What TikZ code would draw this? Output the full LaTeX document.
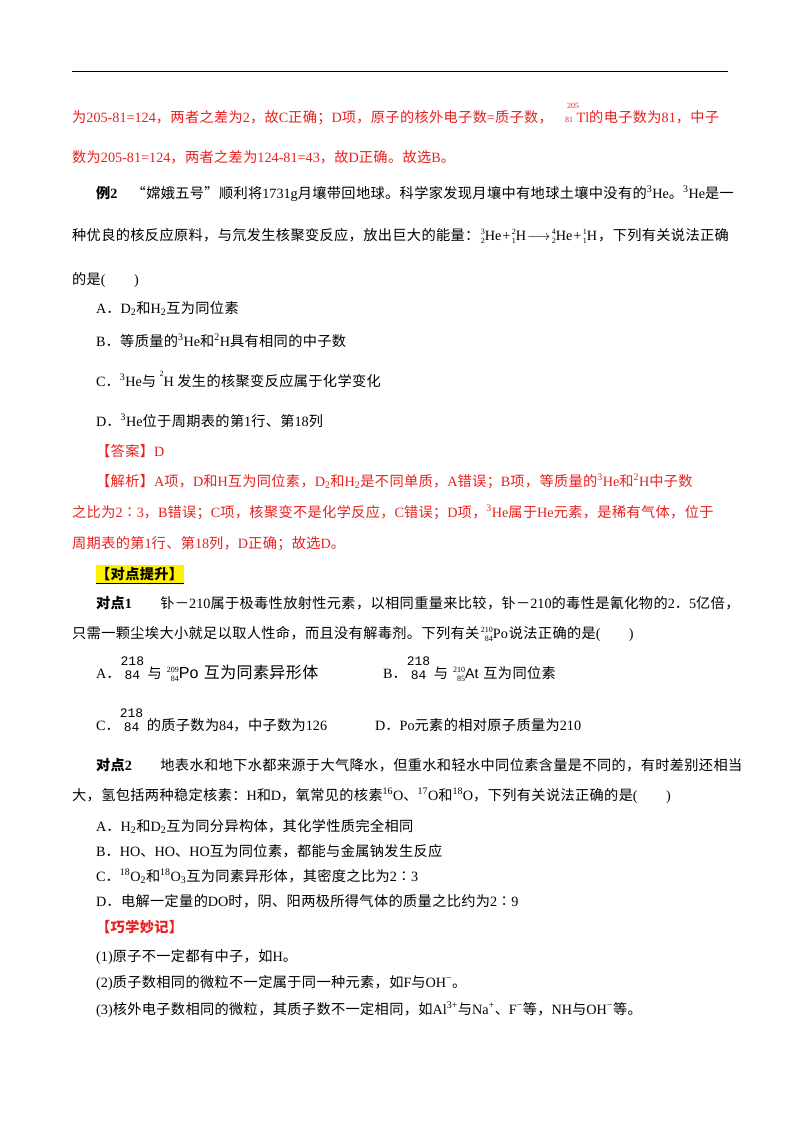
\documentclass[tikz,border=0pt]{standalone}
\usepackage{fontspec}
\setmainfont{Liberation Serif}
\setsansfont{Liberation Sans}
\setmonofont{Liberation Mono}
\newfontfamily\cjk[LetterSpace=2.5]{Noto Sans CJK SC}
\XeTeXinterchartokenstate=1
\newXeTeXintercharclass\CJKc
\count255="4E00 \loop \XeTeXcharclass\count255=\CJKc \ifnum\count255<"9FFF \advance\count255 1 \repeat
\count255="3000 \loop \XeTeXcharclass\count255=\CJKc \ifnum\count255<"303F \advance\count255 1 \repeat
\count255="FF00 \loop \XeTeXcharclass\count255=\CJKc \ifnum\count255<"FFEF \advance\count255 1 \repeat
\XeTeXcharclass"201C=\CJKc \XeTeXcharclass"201D=\CJKc \XeTeXcharclass"2236=\CJKc
\XeTeXinterchartoks 0 \CJKc = {\begingroup\cjk}
\XeTeXinterchartoks 4095 \CJKc = {\begingroup\cjk}
\XeTeXinterchartoks \CJKc 0 = {\endgroup}
\XeTeXinterchartoks \CJKc 4095 = {\endgroup}
\definecolor{ansred}{HTML}{E8201E}
\newcommand\nuc[3]{\kern1.5pt\raisebox{-3pt}{\fontsize{8}{9}\selectfont\begin{tabular}[b]{@{}r@{}}#1\\#2\end{tabular}}#3\kern1pt}
\newcommand\Sp[1]{\textsuperscript{#1}}
\newcommand\Sb[1]{\textsubscript{#1}}
\newcommand\stk{\raisebox{-1pt}{\ttfamily\fontsize{13}{13}\selectfont\begin{tabular}[b]{@{}c@{}}218\\[1pt]84\end{tabular}}}
\begin{document}
\begin{tikzpicture}[x=1pt,y=-1pt,
  txt/.style={anchor=base west,inner sep=0pt,font=\fontsize{14.2}{16}\selectfont},
  red/.style={txt,text=ansred}]
\useasboundingbox (0,0) rectangle (800,1132);
\draw[line width=1pt] (72,72) coordinate (r1) -- (728,72) coordinate (r2);
\node[red] (l1) at (72,122) {为205-81=124，两者之差为2，故C正确；D项，原子的核外电子数=质子数，\quad\raisebox{14pt}{\fontsize{8}{8}\selectfont 205}\kern-14pt\fontsize{8}{8}\selectfont 81\fontsize{14.2}{16}\selectfont\ Tl的电子数为81，中子};
\node[red] (l2) at (72,162) {数为205-81=124，两者之差为124-81=43，故D正确。故选B。};
\node[txt] (l3) at (96,198) {\textbf{例2}\quad “嫦娥五号”顺利将1731g月壤带回地球。科学家发现月壤中有地球土壤中没有的\Sp{3}He。\Sp{3}He是一};
\node[txt] (l4) at (72,240) {种优良的核反应原料，与氘发生核聚变反应，放出巨大的能量：\nuc{3}{2}{He}+\nuc{2}{1}{H}$\longrightarrow$\nuc{4}{2}{He}+\nuc{1}{1}{H}，下列有关说法正确};
\node[txt] (l5) at (72,284) {的是(\qquad)};
\node[txt] (l6) at (96,313) {A．D\Sb{2}和H\Sb{2}互为同位素};
\node[txt] (l7) at (96,346) {B．等质量的\Sp{3}He和\Sp{2}H具有相同的中子数};
\node[txt] (l8) at (96,386) {C．\Sp{3}He与\ \raisebox{10pt}{\fontsize{8}{8}\selectfont 2}H\ 发生的核聚变反应属于化学变化};
\node[txt] (l9) at (96,426) {D．\Sp{3}He位于周期表的第1行、第18列};
\node[red] (l10) at (96,456) {【答案】D};
\node[red] (l11) at (96,486) {【解析】A项，D和H互为同位素，D\Sb{2}和H\Sb{2}是不同单质，A错误；B项，等质量的\Sp{3}He和\Sp{2}H中子数};
\node[red] (l12) at (72,517) {之比为2∶3，B错误；C项，核聚变不是化学反应，C错误；D项，\Sp{3}He属于He元素，是稀有气体，位于};
\node[red] (l13) at (72,548) {周期表的第1行、第18列，D正确；故选D。};
\fill[yellow] (96,565) rectangle (184,583);
\draw[line width=1pt] (96,583) -- (184,583);
\node[txt] (l14) at (96,579) {\textbf{【对点提升】}};
\node[txt] (l15) at (96,608) {\textbf{对点1}\qquad 钋－210属于极毒性放射性元素，以相同重量来比较，钋－210的毒性是氰化物的2．5亿倍，};
\node[txt] (l16) at (72,638) {只需一颗尘埃大小就足以取人性命，而且没有解毒剂。下列有关\nuc{210}{84}{Po}说法正确的是(\qquad)};
\node[txt] (l17a) at (96,678) {A．\stk\ 与\ \nuc{209}{84}{\sffamily\fontsize{16}{16}\selectfont Po}\ 互为同素异形体};
\node[txt] (l17b) at (383,678) {B．\stk\ 与\ \nuc{210}{85}{\sffamily At}\ 互为同位素};
\node[txt] (l18a) at (96,730) {C．\stk\ 的质子数为84，中子数为126};
\node[txt] (l18b) at (375,730) {D．Po元素的相对原子质量为210};
\node[txt] (l19) at (96,770) {\textbf{对点2}\qquad 地表水和地下水都来源于大气降水，但重水和轻水中同位素含量是不同的，有时差别还相当};
\node[txt] (l20) at (72,800) {大，氢包括两种稳定核素：H和D，氧常见的核素\Sp{16}O、\Sp{17}O和\Sp{18}O，下列有关说法正确的是(\qquad)};
\node[txt] (l21) at (96,831) {A．H\Sb{2}和D\Sb{2}互为同分异构体，其化学性质完全相同};
\node[txt] (l22) at (96,856) {B．HO、HO、HO互为同位素，都能与金属钠发生反应};
\node[txt] (l23) at (96,881) {C．\Sp{18}O\Sb{2}和\Sp{18}O\Sb{3}互为同素异形体，其密度之比为2∶3};
\node[txt] (l24) at (96,906) {D．电解一定量的DO时，阴、阳两极所得气体的质量之比约为2∶9};
\node[red] (l25) at (96,932) {\textbf{【巧学妙记】}};
\node[txt] (l26) at (96,961) {(1)原子不一定都有中子，如H。};
\node[txt] (l27) at (96,987) {(2)质子数相同的微粒不一定属于同一种元素，如F与OH\Sp{−}。};
\node[txt] (l28) at (96,1014) {(3)核外电子数相同的微粒，其质子数不一定相同，如Al\Sp{3+}与Na\Sp{+}、F\Sp{−}等，NH与OH\Sp{−}等。};
\end{tikzpicture}
\end{document}
